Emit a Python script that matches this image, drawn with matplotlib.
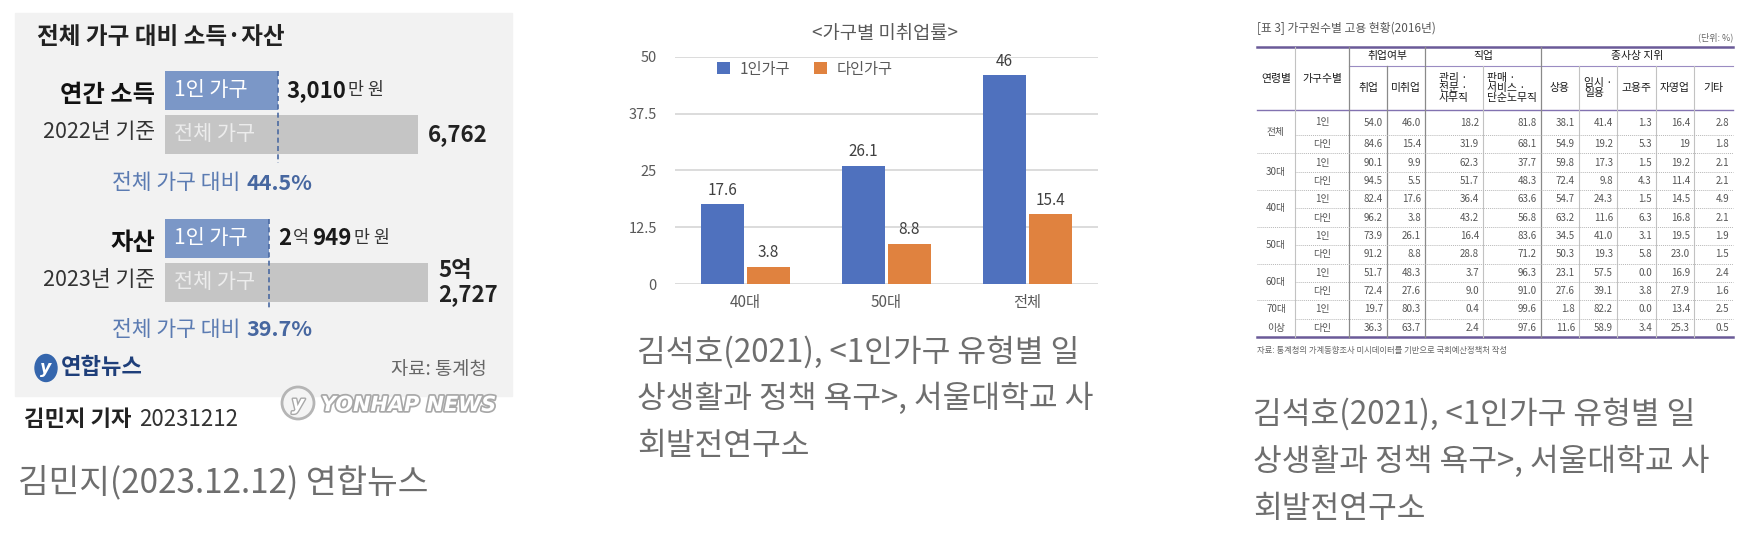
import numpy as np
import matplotlib
matplotlib.use('Agg')
import matplotlib.pyplot as plt
from matplotlib.patches import Rectangle, Ellipse, Circle
import matplotlib.patheffects as pe

plt.rcParams['font.family'] = ['Noto Sans CJK KR', 'DejaVu Sans']

# ---- data: panel 1 (연합뉴스 인포그래픽), 단위 만 원
inc_single, inc_all = 3010, 6762      # 연간 소득 2022
ast_single, ast_all = 20949, 52727    # 자산 2023

# ---- data: panel 2 (가구별 미취업률)
age_groups = ['40대', '50대', '전체']
rate_single = [17.6, 26.1, 46]
rate_multi = [3.8, 8.8, 15.4]
yticks = [0, 12.5, 25, 37.5, 50]

# ---- data: panel 3 (가구원수별 고용 현황 2016)
t_ages = ['전체', '30대', '40대', '50대', '60대', '70대\n이상']
t_hh = ['1인', '다인'] * 6
t_emp = ['54.0', '84.6', '90.1', '94.5', '82.4', '96.2', '73.9', '91.2', '51.7', '72.4', '19.7', '36.3']
t_unemp = ['46.0', '15.4', '9.9', '5.5', '17.6', '3.8', '26.1', '8.8', '48.3', '27.6', '80.3', '63.7']
t_mgmt = ['18.2', '31.9', '62.3', '51.7', '36.4', '43.2', '16.4', '28.8', '3.7', '9.0', '0.4', '2.4']
t_sales = ['81.8', '68.1', '37.7', '48.3', '63.6', '56.8', '83.6', '71.2', '96.3', '91.0', '99.6', '97.6']
t_regular = ['38.1', '54.9', '59.8', '72.4', '54.7', '63.2', '34.5', '50.3', '23.1', '27.6', '1.8', '11.6']
t_temp = ['41.4', '19.2', '17.3', '9.8', '24.3', '11.6', '41.0', '19.3', '57.5', '39.1', '82.2', '58.9']
t_owner = ['1.3', '5.3', '1.5', '4.3', '1.5', '6.3', '3.1', '5.8', '0.0', '3.8', '0.0', '3.4']
t_self = ['16.4', '19', '19.2', '11.4', '14.5', '16.8', '19.5', '23.0', '16.9', '27.9', '13.4', '25.3']
t_other = ['2.8', '1.8', '2.1', '2.1', '4.9', '2.1', '1.9', '1.5', '2.4', '1.6', '2.5', '0.5']
t_sub = ['취업', '미취업', '관리 ·\n전문 ·\n사무직', '판매 ·\n서비스 ·\n단순노무직',
         '상용', '임시 ·\n일용', '고용주', '자영업', '기타']

W, H = 1756, 554
fig = plt.figure(figsize=(W / 100, H / 100), dpi=100)
fig.patch.set_facecolor('white')
ov = fig.add_axes([0, 0, 1, 1])
ov.set_xlim(0, W)
ov.set_ylim(H, 0)
ov.axis('off')
renderer = fig.canvas.get_renderer()


def runs(x, y, parts):
    # parts: (text, kwargs, gap after in px)
    for s, kw, gap in parts:
        t = ov.text(x, y, s, ha='left', va='center', **kw)
        x += t.get_window_extent(renderer).width + gap
    return x


def caption(x, y0, lines, step, size=22.5):
    for i, s in enumerate(lines):
        ov.text(x, y0 + i * step, s, fontsize=size, color='#6e6e6e', va='center')


# ================= panel 1 =================
ov.add_patch(Rectangle((15, 13), 497, 383, color='#f2f2f2', zorder=0))
ov.text(37, 37, '전체 가구 대비 소득·자산', fontsize=17, fontweight='bold',
        color='#222222', va='center')

blue, grey = '#7b97c7', '#c5c5c5'
dash_c = '#4b6aa2'
bar_left, bh = 165, 39


def group(y1, y2, single, total, span, name, year, yname, yyear, yratio, single_lab, total_lab):
    sc = span / total
    ov.barh([y1, y2], [single * sc, total * sc], height=bh, left=bar_left,
            color=[blue, grey], zorder=2)
    xd = bar_left + single * sc
    ov.plot([xd, xd], [y1 - bh / 2, yratio - 20], color=dash_c, lw=1.2,
            ls=(0, (3, 2)), zorder=3)
    ov.text(174, y1, '1인 가구', color='white', fontsize=15, va='center', zorder=4)
    ov.text(174, y2, '전체 가구', color='#ececec', fontsize=15, va='center', zorder=4)
    ov.text(155, yname, name, ha='right', va='center', fontsize=17.5,
            fontweight='bold', color='#111111')
    ov.text(155, yyear, year, ha='right', va='center', fontsize=15.5, color='#333333')
    runs(xd + 9, y1, single_lab)
    ov.text(bar_left + span + 10, y2, total_lab, ha='left', va='center', fontsize=16,
            fontweight='bold', color='#222222', linespacing=1.1)
    ratio = round(single / total * 100, 1)
    runs(112, yratio, [('전체 가구 대비', dict(fontsize=15.5, color='#5b7bb2'), 6),
                       (f'{ratio}%', dict(fontsize=15.5, color='#4767a0', fontweight='bold'), 0)])


bold15 = dict(fontsize=16, fontweight='bold', color='#1a1a1a')
reg12 = dict(fontsize=12.5, color='#333333')
group(90.5, 134.5, inc_single, inc_all, 253, '연간 소득', '2022년 기준', 95, 132, 183,
      [(f'{inc_single:,}', bold15, 2), ('만 원', reg12, 0)], f'{inc_all:,}')
a_eok, a_man = divmod(ast_single, 10000)
t_eok, t_man = divmod(ast_all, 10000)
group(238.5, 282.5, ast_single, ast_all, 263, '자산', '2023년 기준', 243, 280, 330,
      [(f'{a_eok}', bold15, 1), ('억', reg12, 4), (f'{a_man:,}', bold15, 2), ('만 원', reg12, 0)],
      f'{t_eok}억\n{t_man:,}')

# logo + source
ov.add_patch(Ellipse((46, 368), 22, 27, color='#3566ad', zorder=3))
ov.text(46, 368, 'y', family='DejaVu Sans', style='italic', fontweight='bold',
        fontsize=12.5, color='white', ha='center', va='center', zorder=4)
ov.text(61, 368, '연합뉴스', fontsize=16, fontweight='bold', color='#1f3f7a', va='center')
ov.text(487, 369, '자료: 통계청', fontsize=13.5, color='#666666', ha='right', va='center')

# watermark
ov.add_patch(Circle((298, 403), 16, facecolor='#f4f4f4', edgecolor='#b5b5b5', lw=2, zorder=5))
ov.text(298, 404, 'y', family='DejaVu Sans', style='italic', fontweight='bold', fontsize=14,
        color='white', ha='center', va='center', zorder=6,
        path_effects=[pe.withStroke(linewidth=2, foreground='#a8a8a8')])
ov.text(321, 405, 'YONHAP NEWS', family='DejaVu Sans', style='italic', fontweight='bold',
        fontsize=15, color='white', va='center', zorder=6,
        path_effects=[pe.withStroke(linewidth=2.5, foreground='#a8a8a8')])

runs(24, 419, [('김민지 기자', dict(fontsize=16, fontweight='bold', color='#222222'), 8),
               ('20231212', dict(fontsize=16, color='#333333'), 0)])
caption(18, 483, ['김민지(2023.12.12) 연합뉴스'], 0, size=24)

# ================= panel 2 =================
ax2 = fig.add_axes([675 / W, 1 - 284 / H, 423 / W, 227 / H])
x = np.arange(len(age_groups))
bw, off = 0.30, 0.163
b1 = ax2.bar(x - off, rate_single, bw, color='#4f71be', label='1인가구', zorder=3)
b2 = ax2.bar(x + off, rate_multi, bw, color='#e0823f', label='다인가구', zorder=3)
ax2.set_xlim(-0.5, len(age_groups) - 0.5)
ax2.set_ylim(0, 50)
ax2.set_yticks(yticks)
ax2.set_yticklabels([f'{v:g}' for v in yticks])
ax2.set_xticks(x)
ax2.set_xticklabels(age_groups)
ax2.grid(axis='y', color='#d9d9d9', lw=1.3, zorder=0)
ax2.set_axisbelow(True)
for s in ax2.spines.values():
    s.set_visible(False)
ax2.tick_params(axis='y', length=0, labelsize=10.5, labelcolor='#595959', pad=13)
ax2.tick_params(axis='x', length=0, labelsize=11, labelcolor='#595959', pad=7)
ax2.patch.set_alpha(0)
for bars, vals in ((b1, rate_single), (b2, rate_multi)):
    ax2.bar_label(bars, labels=[f'{v:g}' for v in vals], padding=4,
                  fontsize=11, color='#404040')
ax2.legend(loc='center left', bbox_to_anchor=(0.085, 0.947), ncol=2, frameon=False,
           fontsize=11, labelcolor='#595959', handlelength=0.85, handleheight=0.85,
           handletextpad=0.6, columnspacing=1.6, borderaxespad=0)
fig.text(885 / W, 1 - 33 / H, '<가구별 미취업률>', ha='center', va='center',
         fontsize=13.5, color='#595959')

caption(637, 352, ['김석호(2021), <1인가구 유형별 일', '상생활과 정책 욕구>, 서울대학교 사',
                   '회발전연구소'], 47)

# ================= panel 3 =================
tx = [1257, 1295, 1349, 1387, 1425, 1483, 1541, 1579, 1617, 1656, 1694, 1733]
t_top, t_mid, t_head = 47, 66, 110
rh = 18.36
edges = [t_head, 135] + [135 + rh * k for k in range(1, 12)]
purple = '#6a5a98'

ov.text(1257, 28, '[표 3] 가구원수별 고용 현황(2016년)', fontsize=8.5, color='#555555', va='center')
ov.text(1733, 37, '(단위: %)', fontsize=6.5, color='#666666', ha='right', va='center')

ov.plot([tx[0], tx[-1]], [t_top, t_top], color=purple, lw=1.8)
ov.plot([tx[2], tx[-1]], [t_mid, t_mid], color='#9a8cc2', lw=0.8)
ov.plot([tx[0], tx[-1]], [t_head, t_head], color='#8272b0', lw=1.0)
ov.plot([tx[0], tx[-1]], [edges[-1], edges[-1]], color=purple, lw=1.8)
dark_cols = (1349, 1387, 1425, 1541)
for xv in tx[1:-1]:
    top = t_top if xv in (1295, 1349, 1425, 1541) else t_mid
    if xv in dark_cols:
        ov.plot([xv, xv], [top, edges[-1]], color='#8a8a8a', lw=0.9)
    else:
        ov.plot([xv, xv], [top, edges[-1]], color='#c2c2c2', lw=0.8)
for k in range(1, 12):
    start = tx[1] if k % 2 == 1 else tx[0]
    ov.plot([start, tx[-1]], [edges[k], edges[k]], color='#b8b8b8', lw=0.7, ls=(0, (1, 1)))

hdr = dict(fontsize=7.8, color='#1a1a1a', ha='center', va='center')
ov.text((tx[0] + tx[1]) / 2, 79, '연령별', **hdr)
ov.text((tx[1] + tx[2]) / 2, 79, '가구수별', **hdr)
ov.text((tx[2] + tx[4]) / 2, 56.5, '취업여부', **hdr)
ov.text((tx[4] + tx[6]) / 2, 56.5, '직업', **hdr)
ov.text((tx[6] + tx[11]) / 2, 56.5, '종사상 지위', **hdr)
for j, lab in enumerate(t_sub):
    ov.text((tx[j + 2] + tx[j + 3]) / 2, 88, lab, multialignment='left', linespacing=1.05, **hdr)

cols = [t_emp, t_unemp, t_mgmt, t_sales, t_regular, t_temp, t_owner, t_self, t_other]
centers = [(edges[i] + edges[i + 1]) / 2 for i in range(12)]
for i in range(12):
    yc = centers[i]
    ov.text((tx[1] + tx[2]) / 2, yc, t_hh[i], fontsize=7, color='#555555', ha='center', va='center')
    for j, col in enumerate(cols):
        ov.text(tx[j + 3] - 4, yc, col[i], fontsize=7, color='#555555', ha='right', va='center')
for g, name in enumerate(t_ages):
    if '\n' in name:
        for k, part in enumerate(name.split('\n')):
            ov.text((tx[0] + tx[1]) / 2, centers[2 * g + k], part, fontsize=7,
                    color='#555555', ha='center', va='center')
    else:
        ov.text((tx[0] + tx[1]) / 2, (edges[2 * g] + edges[2 * g + 2]) / 2, name,
                fontsize=7, color='#555555', ha='center', va='center')
ov.text(1257, 350, '자료: 통계청의 가계동향조사 미시데이터를 기반으로 국회예산정책처 작성',
        fontsize=6, color='#666666', va='center')

caption(1253, 414, ['김석호(2021), <1인가구 유형별 일', '상생활과 정책 욕구>, 서울대학교 사',
                    '회발전연구소'], 47.5)

fig.savefig('out.png', dpi=100)
